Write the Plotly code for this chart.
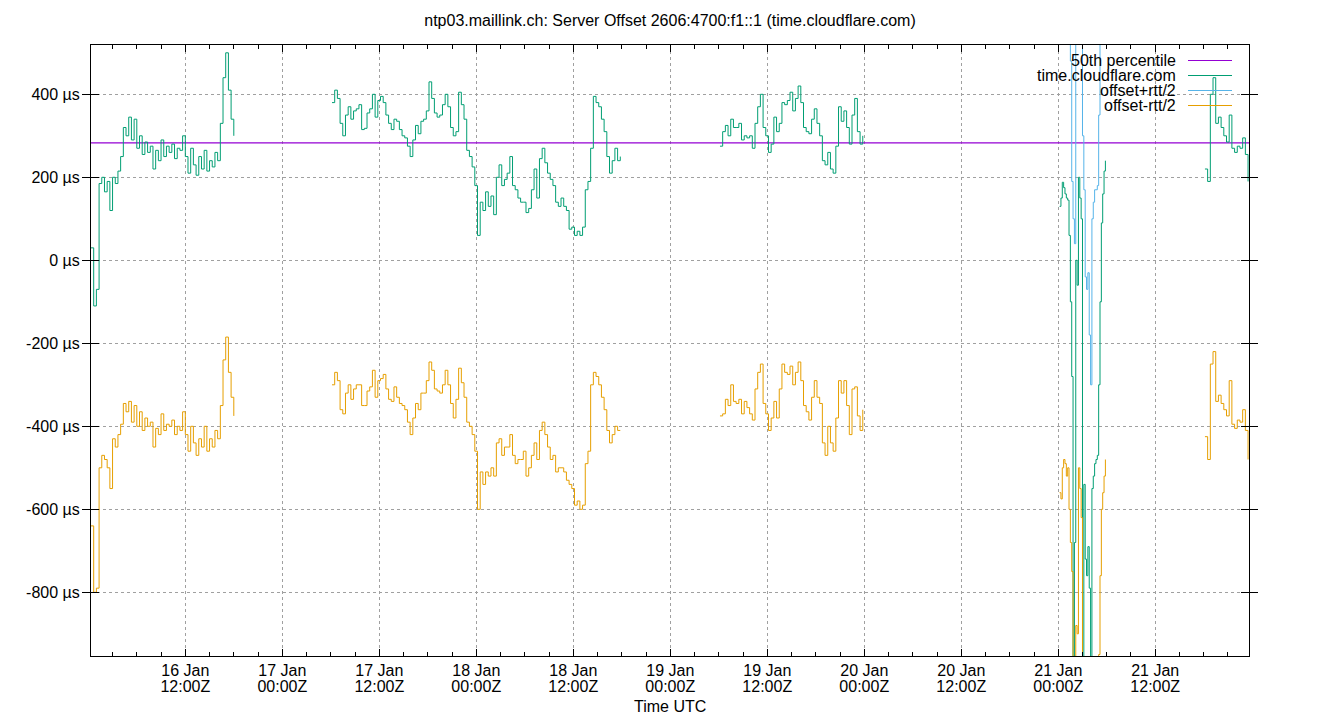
import plotly.graph_objects as go
from datetime import datetime, timedelta

# ---------------- data ----------------
TITLE = "ntp03.maillink.ch: Server Offset 2606:4700:f1::1 (time.cloudflare.com)"
SERIES_NAMES = ["50th percentile", "time.cloudflare.com", "offset+rtt/2", "offset-rtt/2"]

percentile_50 = 283  # µs

# segment start times and sampling step (minutes)
seg_starts = ["2024-01-16 00:20", "2024-01-17 06:09", "2024-01-19 06:09",
              "2024-01-21 00:10", "2024-01-21 18:09"]
seg_steps = [20, 20, 20, 10, 20]

# offset (µs) per segment
off_1 = [30, -110, -70, 185, 200, 165, 190, 120, 200, 185, 215, 250, 320, 300, 345, 290,
         340, 270, 300, 255, 285, 260, 275, 220, 265, 240, 290, 250, 275, 260, 280, 245,
         270, 265, 300, 250, 210, 270, 230, 205, 250, 220, 265, 215, 240, 225, 260, 240,
         330, 440, 500, 410, 340, 300]
off_2 = [380, 410, 390, 330, 300, 350, 370, 340, 360, 365, 375, 315, 318, 355, 365, 400,
         345, 385, 395, 380, 350, 330, 315, 340, 335, 315, 300, 295, 275, 250, 290, 325,
         305, 335, 340, 360, 430, 390, 355, 345, 350, 375, 400, 370, 320, 300, 310, 405,
         375, 340, 265, 250, 225, 180, 60, 140, 120, 165, 130, 155, 110, 200, 230, 180,
         195, 210, 250, 180, 170, 150, 140, 140, 115, 125, 170, 220, 150, 245, 270, 235,
         210, 195, 180, 140, 130, 150, 130, 120, 75, 80, 60, 70, 60, 80, 170, 190,
         270, 395, 380, 370, 340, 310, 250, 210, 240, 270, 240, 250]
off_3 = [275, 310, 325, 300, 340, 320, 320, 330, 290, 300, 295, 300, 270, 330, 370, 400,
         320, 300, 260, 280, 345, 310, 330, 380, 375, 385, 405, 360, 390, 420, 380, 320,
         310, 305, 340, 365, 330, 300, 240, 230, 260, 220, 210, 275, 370, 335, 360, 320,
         280, 350, 390, 310, 280, 300]
off_4 = [130, 150, 188, 175, 160, 150, 145, 60, -100, -280, -1000, -680, 0, -60, 200, 150,
         100, -1000, -540, -720, -760, -690, -790, -1000, -550, -520, -490, -480, -470, -300,
         -100, 90, 160, 215, 240]
off_5 = [220, 190, 400, 440, 330, 345, 320, 300, 285, 350, 270, 260, 275, 270, 295, 255, 190]

# offset - rtt/2 (µs) per segment
low_1 = [-640, -800, -790, -500, -470, -480, -500, -550, -430, -450, -420, -395, -345, -365,
         -340, -390, -350, -400, -365, -410, -380, -400, -390, -450, -405, -420, -370, -410,
         -395, -400, -385, -420, -400, -410, -365, -420, -460, -400, -440, -470, -430, -450,
         -400, -460, -430, -450, -410, -430, -350, -240, -185, -270, -330, -375]
low_2 = [-300, -270, -290, -360, -370, -320, -300, -335, -310, -300, -300, -350, -350, -315,
         -305, -265, -330, -290, -285, -275, -310, -335, -340, -305, -330, -345, -350, -360,
         -390, -420, -380, -345, -360, -320, -320, -290, -245, -265, -310, -315, -320, -300,
         -265, -300, -345, -380, -335, -260, -295, -330, -390, -400, -420, -460, -600, -510,
         -540, -510, -520, -500, -520, -440, -430, -470, -450, -450, -420, -470, -490, -480,
         -480, -460, -520, -500, -470, -440, -480, -410, -390, -420, -450, -480, -470, -510,
         -500, -500, -510, -530, -540, -550, -590, -580, -600, -590, -490, -460, -300, -270,
         -280, -300, -330, -360, -410, -440, -420, -400, -410, -410]
low_3 = [-375, -370, -335, -350, -300, -340, -345, -335, -370, -340, -355, -370, -385, -310,
         -270, -250, -345, -370, -410, -380, -340, -380, -310, -250, -270, -275, -255, -300,
         -270, -245, -290, -350, -365, -385, -330, -290, -330, -345, -440, -470, -400, -440,
         -460, -380, -290, -320, -290, -350, -420, -310, -305, -375, -410, -360]
low_4 = [-560, -575, -500, -480, -490, -520, -500, -600, -680, -750, -2100, -1400, -880, -900,
         -500, -550, -620, -2300, -1250, -1400, -1450, -1350, -1400, -1700, -1200, -1180,
         -1150, -1130, -1120, -950, -760, -600, -560, -520, -480]
low_5 = [-425, -480, -250, -220, -340, -325, -345, -360, -375, -290, -395, -405, -385, -390,
         -360, -410, -480]

offsets = [off_1, off_2, off_3, off_4, off_5]
lows = [low_1, low_2, low_3, low_4, low_5]

# ---------------- build series ----------------
xs, ys_off, ys_low, ys_high = [], [], [], []
for start, step, off, low in zip(seg_starts, seg_steps, offsets, lows):
    t0 = datetime.strptime(start, "%Y-%m-%d %H:%M")
    for k, (o, l) in enumerate(zip(off, low)):
        xs.append(t0 + timedelta(minutes=step * k))
        ys_off.append(o)
        ys_low.append(l)
        ys_high.append(o + (o - l))  # offset + rtt/2
    xs.append(None); ys_off.append(None); ys_low.append(None); ys_high.append(None)

x_start = datetime(2024, 1, 16, 0, 20)
x_end = datetime(2024, 1, 21, 23, 36)

major_ticks = [datetime(2024, 1, 16, 12) + timedelta(hours=12 * i) for i in range(11)]
tick_line1 = [f"{t.day} Jan" for t in major_ticks]
tick_line2 = [f"{t.strftime('%H:%M')}Z" for t in major_ticks]
minor_ticks = [datetime(2024, 1, 16, 3) + timedelta(hours=3 * i) for i in range(48)]
minor_ticks = [t for t in minor_ticks if x_start < t < x_end]

y_ticks = [-800, -600, -400, -200, 0, 200, 400]
y_text = [f"{v} µs" for v in y_ticks]

COL_P50 = "#9400d3"
COL_OFF = "#009e73"
COL_HI = "#56b4e9"
COL_LO = "#e69f00"
FONT = "Liberation Sans, Arial, sans-serif"
FS = 16

# page body has an 8px margin -> figure is 8px smaller than the window
FIG_W, FIG_H = 1332, 712
PLOT_W, PLOT_H = 1158.0, 611.0

fig = go.Figure()
fig.add_trace(go.Scatter(x=[x_start, x_end], y=[percentile_50, percentile_50], mode="lines",
                         line=dict(color=COL_P50, width=1.2), name=SERIES_NAMES[0]))
fig.add_trace(go.Scatter(x=xs, y=ys_off, mode="lines", line=dict(color=COL_OFF, width=1, shape="hv"),
                         connectgaps=False, name=SERIES_NAMES[1]))
fig.add_trace(go.Scatter(x=xs, y=ys_high, mode="lines", line=dict(color=COL_HI, width=1, shape="hv"),
                         connectgaps=False, name=SERIES_NAMES[2]))
fig.add_trace(go.Scatter(x=xs, y=ys_low, mode="lines", line=dict(color=COL_LO, width=1, shape="hv"),
                         connectgaps=False, name=SERIES_NAMES[3]))
# invisible helper trace on the second x axis (carries the 2nd tick-label row)
fig.add_trace(go.Scatter(x=[x_start], y=[percentile_50], xaxis="x2", mode="lines",
                         line=dict(width=0), hoverinfo="skip", showlegend=False))

fig.update_layout(
    width=FIG_W, height=FIG_H,
    margin=dict(l=83, r=91, t=37, b=64),
    paper_bgcolor="white", plot_bgcolor="white",
    showlegend=False,
    font=dict(family=FONT, size=FS, color="black"),
    title=dict(text=TITLE, x=(83 + PLOT_W / 2) / FIG_W, xanchor="center",
               y=1 - 12 / FIG_H, yanchor="middle",
               font=dict(family=FONT, size=FS, color="black")),
    xaxis=dict(
        type="date", range=[x_start, x_end],
        tickmode="array", tickvals=major_ticks, ticktext=tick_line1,
        ticks="inside", ticklen=7, tickcolor="black", tickwidth=1,
        showline=True, linecolor="black", linewidth=1, mirror="allticks",
        showgrid=True, gridcolor="#a0a0a0", griddash="3px,3px", gridwidth=1,
        zeroline=False, ticklabelstandoff=0,
        minor=dict(tickmode="array", tickvals=minor_ticks, ticks="inside", ticklen=4,
                   tickcolor="black", showgrid=False),
        tickfont=dict(size=FS),
    ),
    xaxis2=dict(
        type="date", range=[x_start, x_end], overlaying="x", anchor="y", side="bottom",
        tickmode="array", tickvals=major_ticks, ticktext=tick_line2,
        ticks="inside", ticklen=7, tickcolor="rgba(0,0,0,0)",
        showline=False, showgrid=False, zeroline=False, ticklabelstandoff=19,
        tickfont=dict(size=FS),
    ),
    yaxis=dict(
        range=[-953.5, 518.8],
        tickmode="array", tickvals=y_ticks, ticktext=y_text,
        ticks="inside", ticklen=8, tickcolor="black", tickwidth=1,
        showline=True, linecolor="black", linewidth=1, mirror="allticks",
        showgrid=True, gridcolor="#a0a0a0", griddash="3px,3px", gridwidth=1,
        zeroline=False, ticklabelstandoff=7,
        tickfont=dict(size=FS),
    ),
)

# axis label
fig.add_annotation(text="Time UTC", xref="paper", yref="paper", x=0.5, y=-50 / PLOT_H,
                   xanchor="center", yanchor="middle", showarrow=False,
                   font=dict(family=FONT, size=FS, color="black"))

# key (gnuplot style: text right-aligned, sample line on the right)
legend_cols = [COL_P50, COL_OFF, COL_HI, COL_LO]
for i, (name, col) in enumerate(zip(SERIES_NAMES, legend_cols)):
    ypix = 60.5 + 15 * i - 45
    yp = 1 - ypix / PLOT_H
    fig.add_annotation(text=name, xref="paper", yref="paper", x=(1178 - 91) / PLOT_W, y=yp,
                       xanchor="right", yanchor="middle", showarrow=False,
                       font=dict(family=FONT, size=FS, color="black"))
    fig.add_shape(type="line", xref="paper", yref="paper",
                  x0=(1188 - 91) / PLOT_W, x1=(1232 - 91) / PLOT_W, y0=yp, y1=yp,
                  line=dict(color=col, width=1.2))

fig.write_html("out.html")
